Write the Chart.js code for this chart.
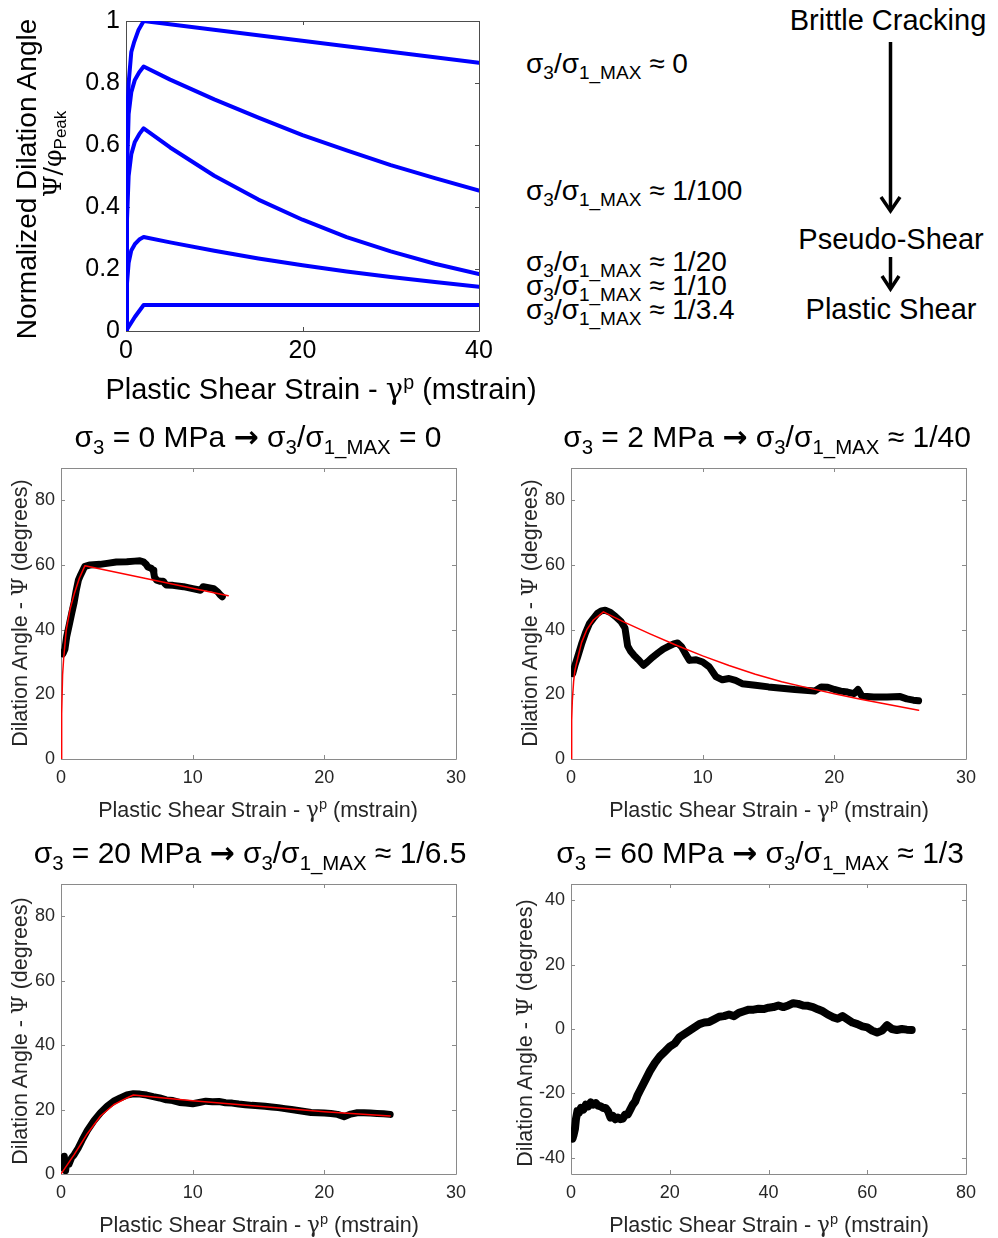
<!DOCTYPE html>
<html>
<head>
<meta charset="utf-8">
<script src="https://cdn.jsdelivr.net/npm/chart.js@4.4.0/dist/chart.umd.min.js"></script>
<style>
body { margin: 0; background: #fff; }
#fig { position: relative; width: 998px; height: 1238px; overflow: hidden;
       font-family: "Liberation Sans", Arial, sans-serif; color: #000; }
canvas { position: absolute; }
.t { position: absolute; white-space: nowrap; line-height: 1; transform: translate(-50%, -50%); }
.rot { transform: translate(-50%, -50%) rotate(-90deg); }
.lft { transform: translate(0, -50%); }
sub, sup { font-size: 68%; line-height: 0; }
sub { vertical-align: -0.32em; }
sup { vertical-align: 0.5em; }
.sym { font-family: "DejaVu Serif", "Liberation Serif", serif; }
.arr { font-family: "DejaVu Sans", sans-serif; font-weight: bold; }
.sub-ax { font-size: 21.5px; color: #262626; }
.sub-title { font-size: 30px; }
.ratio { font-size: 28px; }
</style>
</head>
<body>
<div id="fig">
  <canvas id="top" width="510" height="380" style="left:0;top:0"></canvas>
  <canvas id="p1" width="480" height="370" style="left:0;top:450px"></canvas>
  <canvas id="p2" width="480" height="370" style="left:510px;top:450px"></canvas>
  <canvas id="p3" width="480" height="370" style="left:0;top:866px"></canvas>
  <canvas id="p4" width="480" height="370" style="left:510px;top:866px"></canvas>

  <!-- top panel labels -->
  <div class="t rot" style="left:27px;top:179px;font-size:28px">Normalized Dilation Angle</div>
  <div class="t rot" style="left:52px;top:154px;font-size:25px"><span class="sym">Ψ/φ</span><sub>Peak</sub></div>
  <div class="t" style="left:321px;top:389px;font-size:29px">Plastic Shear Strain - <span class="sym">γ</span><sup>p</sup> (mstrain)</div>

  <div class="t lft ratio" style="left:526px;top:64px">σ<sub>3</sub>/σ<sub>1_MAX</sub> ≈ 0</div>
  <div class="t lft ratio" style="left:526px;top:191px">σ<sub>3</sub>/σ<sub>1_MAX</sub> ≈ 1/100</div>
  <div class="t lft ratio" style="left:526px;top:262px">σ<sub>3</sub>/σ<sub>1_MAX</sub> ≈ 1/20</div>
  <div class="t lft ratio" style="left:526px;top:286px">σ<sub>3</sub>/σ<sub>1_MAX</sub> ≈ 1/10</div>
  <div class="t lft ratio" style="left:526px;top:310px">σ<sub>3</sub>/σ<sub>1_MAX</sub> ≈ 1/3.4</div>

  <div class="t" style="left:888px;top:20px;font-size:29px">Brittle Cracking</div>
  <div class="t" style="left:891px;top:239px;font-size:29px">Pseudo-Shear</div>
  <div class="t" style="left:891px;top:309px;font-size:29px">Plastic Shear</div>
  <svg style="position:absolute;left:0;top:0" width="998" height="340">
    <g stroke="#000" stroke-width="3.5" fill="none">
      <line x1="890.5" y1="42" x2="890.5" y2="209"/>
      <polyline points="881,197 890.5,211 900,197"/>
      <line x1="890.5" y1="257" x2="890.5" y2="287"/>
      <polyline points="882,276 890.5,289 899,276"/>
    </g>
  </svg>

  <!-- sub-panel titles -->
  <div class="t sub-title" style="left:258px;top:437px">σ<sub>3</sub> = 0 MPa <span class="arr">→</span> σ<sub>3</sub>/σ<sub>1_MAX</sub> = 0</div>
  <div class="t sub-title" style="left:767px;top:437px">σ<sub>3</sub> = 2 MPa <span class="arr">→</span> σ<sub>3</sub>/σ<sub>1_MAX</sub> ≈ 1/40</div>
  <div class="t sub-title" style="left:250px;top:853px">σ<sub>3</sub> = 20 MPa <span class="arr">→</span> σ<sub>3</sub>/σ<sub>1_MAX</sub> ≈ 1/6.5</div>
  <div class="t sub-title" style="left:760px;top:853px">σ<sub>3</sub> = 60 MPa <span class="arr">→</span> σ<sub>3</sub>/σ<sub>1_MAX</sub> ≈ 1/3</div>

  <div class="t sub-ax" style="left:258px;top:810px">Plastic Shear Strain - <span class="sym">γ</span><sup>p</sup> (mstrain)</div>
  <div class="t sub-ax" style="left:769px;top:810px">Plastic Shear Strain - <span class="sym">γ</span><sup>p</sup> (mstrain)</div>
  <div class="t sub-ax" style="left:259px;top:1225px">Plastic Shear Strain - <span class="sym">γ</span><sup>p</sup> (mstrain)</div>
  <div class="t sub-ax" style="left:769px;top:1225px">Plastic Shear Strain - <span class="sym">γ</span><sup>p</sup> (mstrain)</div>

  <div class="t rot sub-ax" style="left:20px;top:613px">Dilation Angle - <span class="sym">Ψ</span> (degrees)</div>
  <div class="t rot sub-ax" style="left:530px;top:613px">Dilation Angle - <span class="sym">Ψ</span> (degrees)</div>
  <div class="t rot sub-ax" style="left:20px;top:1031px">Dilation Angle - <span class="sym">Ψ</span> (degrees)</div>
  <div class="t rot sub-ax" style="left:525px;top:1033px">Dilation Angle - <span class="sym">Ψ</span> (degrees)</div>
</div>

<script>
// ---- top panel: normalized dilation angle curves ----
const normXTicks = [0, 20, 40];
const normYTicks = [0, 0.2, 0.4, 0.6, 0.8, 1];

const c0X = [0, 0.05, 0.15, 0.3, 0.6, 0.9, 1.4, 2, 40];
const c0Y = [0, 0.45, 0.7, 0.8, 0.9, 0.93, 0.97, 1.0, 0.865];

const c100X = [0, 0.1, 0.3, 0.6, 1, 1.5, 2, 5, 10, 15, 20, 25, 30, 35, 40];
const c100Y = [0, 0.5, 0.7, 0.77, 0.81, 0.835, 0.853, 0.811, 0.747, 0.688, 0.632, 0.583, 0.535, 0.493, 0.453];

const c20X = [0, 0.1, 0.3, 0.6, 1, 1.5, 2, 5, 10, 15, 20, 25, 30, 35, 40];
const c20Y = [0, 0.35, 0.5, 0.57, 0.61, 0.635, 0.654, 0.592, 0.501, 0.424, 0.359, 0.303, 0.257, 0.217, 0.184];

const c10X = [0, 0.1, 0.3, 0.6, 1, 1.5, 2, 5, 10, 15, 20, 25, 30, 35, 40];
const c10Y = [0, 0.15, 0.22, 0.26, 0.28, 0.295, 0.303, 0.286, 0.259, 0.234, 0.212, 0.192, 0.174, 0.158, 0.143];

const c34X = [0, 1, 2, 40];
const c34Y = [0, 0.045, 0.084, 0.084];

// ---- sub panels ----
const strainTicks30 = [0, 10, 20, 30];
const strainTicks80 = [0, 20, 40, 60, 80];
const angleTicks90 = [0, 20, 40, 60, 80];
const angleTicks45 = [-40, -20, 0, 20, 40];

// sigma3 = 0 MPa
const d1X = [0.13, 0.2, 0.3, 0.43, 0.6, 0.81, 1.0, 1.15, 1.32, 1.5, 1.7, 1.82, 2.2, 2.96, 3.5, 4.2, 5.0, 5.6, 6.0, 6.25, 6.45, 6.6, 6.85, 7.0, 7.05, 7.1, 7.27, 7.5, 7.77, 7.9, 8.0, 8.5, 9.3, 10, 10.6, 10.8, 11.2, 11.6, 11.9, 12.1, 12.25];
const d1Y = [32.5, 33, 34, 37.8, 41, 45, 48.5, 52, 55.3, 57, 58.7, 59.6, 60, 60.2, 60.5, 60.9, 61, 61.2, 61.3, 61, 60.3, 59.4, 59, 58.4, 57.5, 56.3, 55.3, 55, 55, 54.2, 53.8, 53.7, 53.3, 52.7, 52.2, 53.3, 53, 52.7, 51.7, 50.7, 50.2];
const f1X = [0, 0.05, 0.12, 0.2, 0.4, 0.7, 1.0, 1.4, 1.82, 12.7];
const f1Y = [0, 14, 26, 31, 40, 46.5, 51, 56, 59.8, 50.5];

// sigma3 = 2 MPa
const d2X = [0.13, 0.3, 0.5, 0.8, 1.1, 1.4, 1.7, 2.0, 2.3, 2.6, 3.0, 3.4, 3.8, 4.1, 4.3, 4.5, 4.8, 5.1, 5.5, 5.8, 6.2, 6.6, 7.0, 7.4, 7.8, 8.1, 8.4, 8.7, 9.0, 9.5, 10, 10.5, 11, 11.5, 12, 12.5, 13, 14, 15, 16, 17, 18, 18.5, 19, 19.5, 20, 20.5, 21, 21.5, 21.8, 22.1, 22.5, 23, 24, 25, 25.5, 26, 26.4];
const d2Y = [26.4, 29, 31.5, 35.5, 39, 41.9, 43.5, 45, 45.8, 46, 45.3, 44, 42.5, 40.5, 35, 33.5, 32, 30.8, 29, 30, 31.5, 32.8, 34, 34.8, 35.6, 35.9, 34.7, 32.5, 30.5, 30.7, 30, 28.5, 25.5, 24.5, 24.9, 24.3, 23.3, 22.8, 22.3, 21.9, 21.5, 21.2, 21, 22.3, 22.2, 21.5, 21, 20.7, 20.2, 21.5, 19.4, 19.3, 19.2, 19.2, 19.3, 18.6, 18.2, 18];
const f2X = [0, 0.05, 0.1, 0.2, 0.3, 0.5, 0.8, 1.2, 1.7, 2.46, 4, 6, 8, 10, 12, 14, 16, 18, 20, 22, 24, 26.4];
const f2Y = [0, 12, 18, 24, 27.5, 31, 36, 40, 43, 45.5, 42.4, 38.7, 35.2, 31.9, 28.9, 26.2, 23.9, 22, 20.2, 18.5, 16.9, 15.1];

// sigma3 = 20 MPa
const d3X = [0.05, 0.15, 0.25, 0.35, 0.45, 0.6, 0.8, 1.0, 1.3, 1.6, 2.0, 2.5, 3.0, 3.5, 4.0, 4.5, 5.0, 5.5, 6.0, 6.5, 7.0, 7.5, 8.0, 8.5, 9.0, 9.5, 10, 10.5, 11, 11.5, 12, 12.5, 13, 13.5, 14, 14.5, 15, 15.5, 16, 16.5, 17, 17.5, 18, 18.5, 19, 19.5, 20, 20.5, 21, 21.5, 22, 22.5, 23, 23.5, 24, 24.5, 25];
const d3Y = [5, 2, 5.5, 1, 4, 3, 5, 6, 8, 10.5, 13.5, 16.5, 19, 21, 22.6, 23.6, 24.5, 24.9, 24.8, 24.5, 24, 23.6, 23, 22.8, 22.2, 22, 21.8, 22.2, 22.6, 22.4, 22.5, 22.1, 22, 21.7, 21.5, 21.3, 21.2, 21, 20.8, 20.6, 20.3, 20, 19.7, 19.4, 19.1, 19, 18.9, 18.8, 18.5, 17.8, 18.6, 19, 19, 18.9, 18.8, 18.7, 18.5];
const f3X = [0, 1, 2, 3, 4, 5, 5.5, 8, 10, 15, 20, 25];
const f3Y = [0, 6, 12.5, 18, 21.5, 23.6, 24.5, 23.5, 22.7, 21, 19.3, 18];

// sigma3 = 60 MPa
const d4X = [0.3, 0.5, 0.8, 1.0, 1.3, 1.6, 2.0, 2.5, 3.0, 3.5, 4.0, 4.5, 5.0, 5.5, 6.0, 6.5, 7.0, 7.5, 8.0, 8.5, 9.0, 9.5, 10, 10.5, 11, 11.5, 12, 12.5, 13, 13.5, 14, 15, 16, 17, 18, 19, 20, 21, 22, 23, 24, 25, 26, 27, 28, 29, 30, 31, 32, 33, 34, 35, 36, 37, 38, 39, 40, 41, 42, 43, 44, 45, 46, 47, 48, 49, 50, 51, 52, 53, 54, 55, 56, 57, 58, 59, 60, 61, 62, 63, 64, 65, 66, 67, 68, 69];
const d4Y = [-34, -33, -31, -28, -25.5, -26, -24.5, -25, -23.5, -24, -22.8, -23.5, -23, -23.8, -24, -24.5, -24.5, -25.5, -27.5, -27, -28, -27.5, -28, -27.8, -26.5, -26.5, -25, -23.5, -22.5, -20.5, -19, -16, -13, -10.5, -8.5, -7, -5.5, -4.5, -2.5, -1.5, -0.5, 0.5, 1.5, 2, 2.2, 3, 3.8, 4, 4.5, 4, 5, 5.5, 6, 6, 6.3, 6.2, 6.6, 6.8, 7.3, 6.8, 7.3, 8, 7.8, 7.3, 7.2, 6.8, 6.1, 5.5, 4.5, 3.7, 3.2, 4, 3, 2, 1.5, 0.8, 0.5, -0.5, -1.1, -0.5, 1.2, 0, -0.3, 0, -0.2, -0.3];

function pts(xs, ys) {
  return xs.map((x, i) => ({ x: x, y: ys[i] }));
}

// matlab style box with inward ticks on all four sides
const boxPlugin = {
  id: 'box',
  beforeDatasetsDraw(chart, args, opts) {
    const ctx = chart.ctx;
    const a = chart.chartArea;
    const sx = chart.scales.x, sy = chart.scales.y;
    ctx.save();
    ctx.strokeStyle = opts.color;
    ctx.lineWidth = 1;
    ctx.beginPath();
    ctx.rect(Math.round(a.left) + 0.5, Math.round(a.top) + 0.5, Math.round(a.right - a.left), Math.round(a.bottom - a.top));
    sx.ticks.forEach(t => {
      const p = Math.round(sx.getPixelForValue(t.value)) + 0.5;
      ctx.moveTo(p, a.bottom); ctx.lineTo(p, a.bottom - opts.len);
      ctx.moveTo(p, a.top); ctx.lineTo(p, a.top + opts.len);
    });
    sy.ticks.forEach(t => {
      const p = Math.round(sy.getPixelForValue(t.value)) + 0.5;
      ctx.moveTo(a.left, p); ctx.lineTo(a.left + opts.len, p);
      ctx.moveTo(a.right, p); ctx.lineTo(a.right - opts.len, p);
    });
    ctx.stroke();
    ctx.restore();
  }
};

function panel(id, c) {
  return new Chart(document.getElementById(id), {
    type: 'line',
    data: { datasets: c.datasets },
    options: {
      responsive: false,
      animation: false,
      layout: { padding: c.padding },
      plugins: {
        legend: { display: false },
        tooltip: { enabled: false },
        box: { color: c.boxColor, len: c.tickLen }
      },
      elements: {
        point: { radius: 0 },
        line: { tension: 0, borderJoinStyle: 'round', borderCapStyle: 'round' }
      },
      scales: {
        x: {
          type: 'linear', min: c.xMin, max: c.xMax,
          afterBuildTicks: s => { s.ticks = c.xTicks.map(v => ({ value: v })); },
          afterFit: s => { s.height = c.xH; },
          grid: { display: false, drawTicks: false },
          border: { display: false },
          ticks: { color: c.tickColor, font: { size: c.fs }, padding: c.xPad, maxRotation: 0, autoSkip: false,
                   callback: v => String(+v.toFixed(2)) }
        },
        y: {
          type: 'linear', min: c.yMin, max: c.yMax,
          afterBuildTicks: s => { s.ticks = c.yTicks.map(v => ({ value: v })); },
          afterFit: s => { s.width = c.yW; },
          grid: { display: false, drawTicks: false },
          border: { display: false },
          ticks: { color: c.tickColor, font: { size: c.fs }, padding: c.yPad, autoSkip: false,
                   callback: v => String(+v.toFixed(2)) }
        }
      }
    },
    plugins: [boxPlugin]
  });
}

Chart.defaults.font.family = '"Liberation Sans", Arial, sans-serif';

const blue = '#0000ff';
const blk = '#000000';
const red = '#ff0000';

function blueLine(xs, ys) {
  return { data: pts(xs, ys), borderColor: blue, borderWidth: 4 };
}

panel('top', {
  padding: { top: 21, right: 31, left: 0, bottom: 0 },
  xMin: 0, xMax: 40, yMin: 0, yMax: 1,
  xTicks: normXTicks, yTicks: normYTicks,
  xH: 49, yW: 126, fs: 25, xPad: 5, yPad: 6,
  tickColor: '#000', boxColor: '#4d4d4d', tickLen: 4,
  datasets: [
    blueLine(c0X, c0Y), blueLine(c100X, c100Y), blueLine(c20X, c20Y),
    blueLine(c10X, c10Y), blueLine(c34X, c34Y)
  ]
});

const subCommon = {
  padding: { top: 18, right: 24, left: 0, bottom: 0 },
  yW: 61, fs: 18, xPad: 8, yPad: 6,
  tickColor: '#262626', boxColor: '#8a8a8a', tickLen: 4
};

panel('p1', Object.assign({}, subCommon, {
  xH: 61, xMin: 0, xMax: 30, yMin: 0, yMax: 90,
  xTicks: strainTicks30, yTicks: angleTicks90,
  datasets: [
    { data: pts(f1X, f1Y), borderColor: red, borderWidth: 1.5, order: 0 },
    { data: pts(d1X, d1Y), borderColor: blk, borderWidth: 7, order: 1 }
  ]
}));

panel('p2', Object.assign({}, subCommon, {
  xH: 61, xMin: 0, xMax: 30, yMin: 0, yMax: 90,
  xTicks: strainTicks30, yTicks: angleTicks90,
  datasets: [
    { data: pts(f2X, f2Y), borderColor: red, borderWidth: 1.5, order: 0 },
    { data: pts(d2X, d2Y), borderColor: blk, borderWidth: 7, order: 1 }
  ]
}));

panel('p3', Object.assign({}, subCommon, {
  xH: 62, xMin: 0, xMax: 30, yMin: 0, yMax: 90,
  xTicks: strainTicks30, yTicks: angleTicks90,
  datasets: [
    { data: pts(f3X, f3Y), borderColor: red, borderWidth: 1.5, order: 0 },
    { data: pts(d3X, d3Y), borderColor: blk, borderWidth: 7, order: 1 }
  ]
}));

panel('p4', Object.assign({}, subCommon, {
  xH: 62, xMin: 0, xMax: 80, yMin: -45, yMax: 45,
  xTicks: strainTicks80, yTicks: angleTicks45,
  datasets: [
    { data: pts(d4X, d4Y), borderColor: blk, borderWidth: 8 }
  ]
}));
</script>
</body>
</html>
